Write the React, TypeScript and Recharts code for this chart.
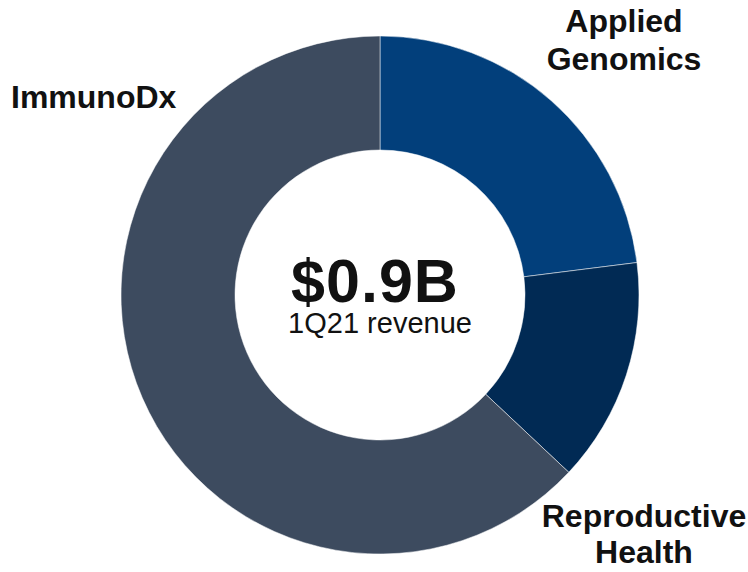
import React from 'react';
import { PieChart, Pie, Cell } from 'recharts';

// segment shares of 1Q21 revenue (%), clockwise from 12 o'clock
const segments = ['Applied Genomics', 'Reproductive Health', 'ImmunoDx'];
const shares = [23, 14, 63];
const colors = ['#023f7b', '#012a54', '#3d4b5f'];

const totalLabel = '$0.9B';
const subLabel = '1Q21 revenue';

const data = segments.map((name, i) => ({ name, value: shares[i] }));

const font = '"Liberation Sans", Arial, sans-serif';

const App: React.FC = () => {
  return (
    <div style={{ position: 'absolute', left: 0, top: 0, width: 748, height: 572, background: '#fff' }}>
      <PieChart width={748} height={572} margin={{ top: 0, right: 0, bottom: 0, left: 0 }}>
        <Pie
          data={data}
          dataKey="value"
          cx={380}
          cy={295}
          innerRadius={145}
          outerRadius={259}
          startAngle={90}
          endAngle={-270}
          stroke="#ffffff"
          strokeWidth={0.5}
          isAnimationActive={false}
        >
          {data.map((d, i) => (
            <Cell key={d.name} fill={colors[i]} />
          ))}
        </Pie>
        <text x={375} y={302} textAnchor="middle" fontFamily={font} fontWeight="bold" fontSize={61} letterSpacing={1} fill="#111">
          {totalLabel}
        </text>
        <text x={380} y={333} textAnchor="middle" fontFamily={font} fontSize={29} fill="#111">
          {subLabel}
        </text>
        <text textAnchor="middle" fontFamily={font} fontWeight="bold" fontSize={32} fill="#111">
          <tspan x={624} y={32}>Applied</tspan>
          <tspan x={624} y={70}>Genomics</tspan>
        </text>
        <text x={11} y={108} fontFamily={font} fontWeight="bold" fontSize={32} fill="#111">
          ImmunoDx
        </text>
        <text textAnchor="middle" fontFamily={font} fontWeight="bold" fontSize={32} fill="#111">
          <tspan x={644} y={527}>Reproductive</tspan>
          <tspan x={644} y={563}>Health</tspan>
        </text>
      </PieChart>
    </div>
  );
};

export default App;
